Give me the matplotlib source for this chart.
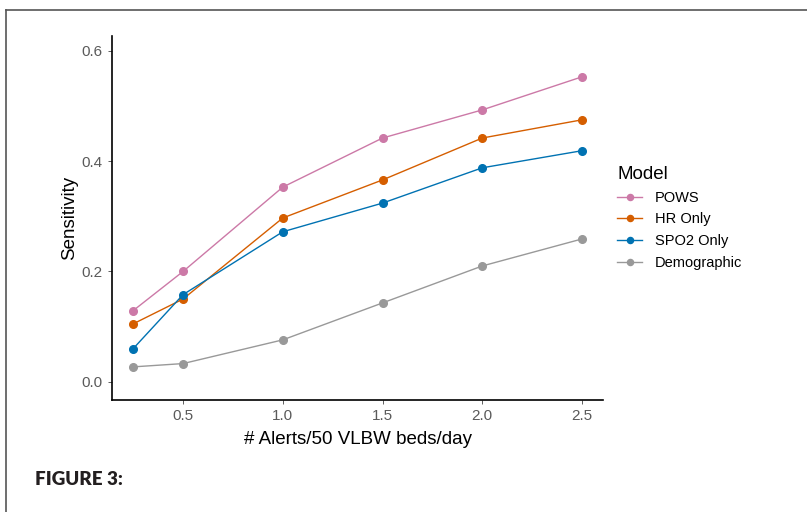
import matplotlib
matplotlib.use("Agg")
import matplotlib.pyplot as plt
from matplotlib.lines import Line2D

# alert rate (x) and sensitivity for each model
alerts = [0.25, 0.5, 1.0, 1.5, 2.0, 2.5]
pows = [0.129, 0.200, 0.353, 0.442, 0.493, 0.553]
hr_only = [0.105, 0.150, 0.297, 0.366, 0.442, 0.475]
spo2_only = [0.060, 0.158, 0.272, 0.324, 0.388, 0.419]
demographic = [0.027, 0.033, 0.076, 0.143, 0.210, 0.259]

models = ["POWS", "HR Only", "SPO2 Only", "Demographic"]
series = [pows, hr_only, spo2_only, demographic]
colors = ["#CC79A7", "#D55E00", "#0072B2", "#999999"]

plt.rcParams["font.family"] = ["Liberation Sans", "DejaVu Sans"]

fig = plt.figure(figsize=(8.07, 5.12), dpi=100)
ax = fig.add_axes([0.1388, 0.2188, 0.6084, 0.7109])

for name, vals, col in zip(models, series, colors):
    ax.plot(alerts, vals, color=col, lw=1.0, marker="o", ms=5.5, label=name)

ax.set_xlim(0.144, 2.605)
ax.set_ylim(-0.033, 0.627)
ax.set_xticks([0.5, 1.0, 1.5, 2.0, 2.5])
ax.set_xticklabels(["0.5", "1.0", "1.5", "2.0", "2.5"])
ax.set_yticks([0.0, 0.2, 0.4, 0.6])
ax.set_yticklabels(["0.0", "0.2", "0.4", "0.6"])
ax.tick_params(colors="#444444", labelcolor="#5A5A5A", labelsize=11, length=3, width=0.6)
for side in ["top", "right"]:
    ax.spines[side].set_visible(False)
for side in ["left", "bottom"]:
    ax.spines[side].set_linewidth(1.2)
ax.set_xlabel("# Alerts/50 VLBW beds/day", fontsize=13.5, labelpad=6)
ax.set_ylabel("Sensitivity", fontsize=13.5, labelpad=3)

leg = ax.legend(title="Model", loc="upper left", bbox_to_anchor=(1.005, 0.674),
                frameon=False, fontsize=10.5, title_fontsize=13.5,
                handlelength=1.7, handletextpad=0.9, labelspacing=0.52,
                borderpad=0.3, markerscale=0.8)
leg._legend_box.align = "left"

# page frame and caption
fig.add_artist(Line2D([0.0074, 0.0074], [0, 0.98], color="#555555", lw=1.2))
fig.add_artist(Line2D([0.0074, 1.0], [0.98, 0.98], color="#555555", lw=1.2))
fig.text(0.043, 0.052, "FIGURE 3:", fontsize=13.5, fontweight="heavy",
         family=["Lato", "DejaVu Sans"], color="#231F20")

fig.savefig("out.png", dpi=100)
